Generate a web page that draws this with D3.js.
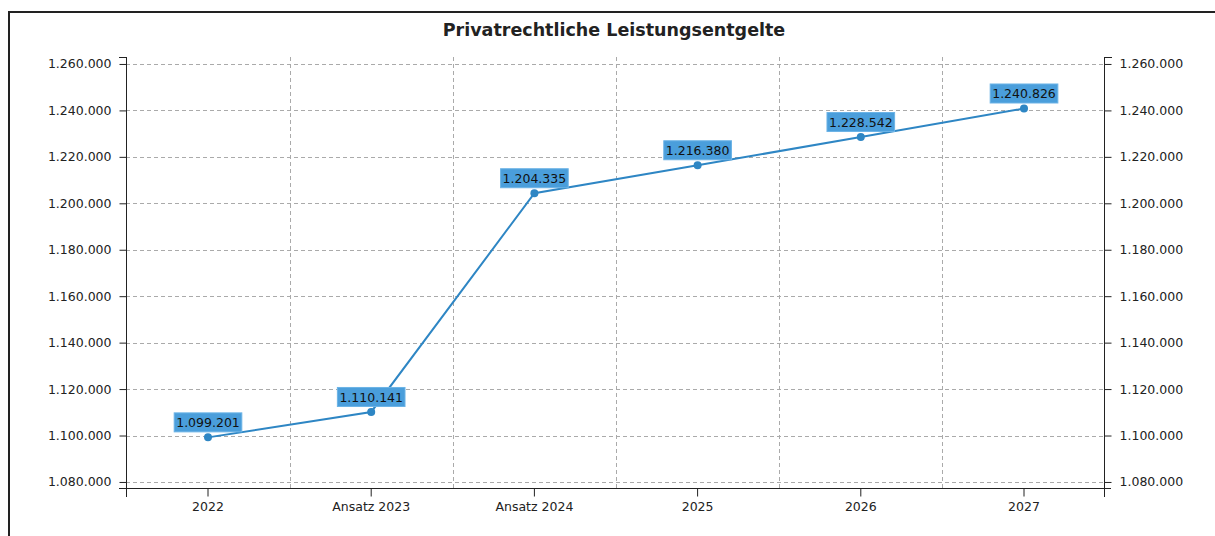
<!DOCTYPE html>
<html><head><meta charset="utf-8">
<script src="https://cdn.jsdelivr.net/npm/d3@7"></script>
<style>body{margin:0;background:#fff;}svg{display:block;}</style>
</head><body>
<svg id="c" width="1215" height="536"></svg>
<script>
const title = "Privatrechtliche Leistungsentgelte";
const categories = ["2022","Ansatz 2023","Ansatz 2024","2025","2026","2027"];
const values = [1099201,1110141,1204335,1216380,1228542,1240826];
const yTicks = [1080000,1100000,1120000,1140000,1160000,1180000,1200000,1220000,1240000,1260000];

const svg = d3.select("#c");
const fmt = v => d3.format(",.0f")(v).replace(/,/g,".");
const font = "DejaVu Sans, Verdana, sans-serif";

// outer border
svg.append("rect").attr("x",9).attr("y",12).attr("width",1215).attr("height",540)
  .attr("fill","none").attr("stroke","#222").attr("stroke-width",2);

svg.append("text").attr("x",614).attr("y",36).attr("text-anchor","middle")
  .attr("font-family",font).attr("font-weight","bold").attr("font-size",17.5).attr("fill","#222").text(title);

const L=126,R=1104,T=57,B=488;
const x = d3.scaleBand().domain(categories).range([126.4,1105.6]);
const y = d3.scaleLinear().domain([1077400,1263000]).range([B,T]);

// grid
const g = svg.append("g");
g.selectAll(".hg").data(yTicks).join("line")
  .attr("x1",L).attr("x2",R).attr("y1",d=>Math.round(y(d))+0.5).attr("y2",d=>Math.round(y(d))+0.5)
  .attr("stroke","#aaa").attr("stroke-dasharray","4,3");
g.selectAll(".vg").data(categories.slice(1)).join("line")
  .attr("x1",d=>Math.round(x(d))+0.5).attr("x2",d=>Math.round(x(d))+0.5).attr("y1",T).attr("y2",B)
  .attr("stroke","#aaa").attr("stroke-dasharray","4,3");

// axes
const left = svg.append("g").attr("transform",`translate(${L+0.5},0)`)
  .call(d3.axisLeft(y).tickValues(yTicks).tickFormat(fmt).tickSize(7).tickPadding(8).tickSizeOuter(0));
const right = svg.append("g").attr("transform",`translate(${R+0.5},0)`)
  .call(d3.axisRight(y).tickValues(yTicks).tickFormat(fmt).tickSize(7).tickPadding(8).tickSizeOuter(0));
const bottom = svg.append("g").attr("transform",`translate(0,${B+0.5})`)
  .call(d3.axisBottom(x).tickSize(8).tickPadding(6).tickSizeOuter(0));
[left,right,bottom].forEach(a=>{
  a.select(".domain").remove();
  a.selectAll("line").attr("stroke","#222");
  a.selectAll("text").attr("font-family",font).attr("font-size",12.5).attr("fill","#222");
});
// axis lines
svg.append("line").attr("x1",L+0.5).attr("x2",L+0.5).attr("y1",T).attr("y2",B+9).attr("stroke","#222");
svg.append("line").attr("x1",R+0.5).attr("x2",R+0.5).attr("y1",T).attr("y2",B+9).attr("stroke","#222");
svg.append("line").attr("x1",L-7).attr("x2",R+7).attr("y1",B+0.5).attr("y2",B+0.5).attr("stroke","#222");
// top caps
svg.append("line").attr("x1",L-7).attr("x2",L+1).attr("y1",T+0.5).attr("y2",T+0.5).attr("stroke","#222");
svg.append("line").attr("x1",R).attr("x2",R+8).attr("y1",T+0.5).attr("y2",T+0.5).attr("stroke","#222");

// line
const cx = d => x(d)+x.bandwidth()/2;
const data = categories.map((c,i)=>({c,v:values[i]}));
svg.append("path").datum(data)
  .attr("d",d3.line().x(d=>cx(d.c)).y(d=>y(d.v)))
  .attr("fill","none").attr("stroke","#2e86c4").attr("stroke-width",2);
svg.selectAll(".pt").data(data).join("circle")
  .attr("cx",d=>cx(d.c)).attr("cy",d=>y(d.v)).attr("r",4).attr("fill","#2e86c4");

// labels
const lab = svg.selectAll(".lab").data(data).join("g");
lab.each(function(d){
  const gg = d3.select(this);
  const t = gg.append("text").attr("x",cx(d.c)).attr("y",y(d.v)-10)
    .attr("text-anchor","middle").attr("font-family",font).attr("font-size",12.5).attr("fill","#111").text(fmt(d.v));
  const bb = t.node().getBBox();
  gg.insert("rect","text").attr("x",bb.x-2).attr("y",y(d.v)-24.5).attr("width",bb.width+4).attr("height",19)
    .attr("fill","#4a9edb").attr("stroke","#6bb3e6").attr("stroke-width",1);
});
</script>
</body></html>
